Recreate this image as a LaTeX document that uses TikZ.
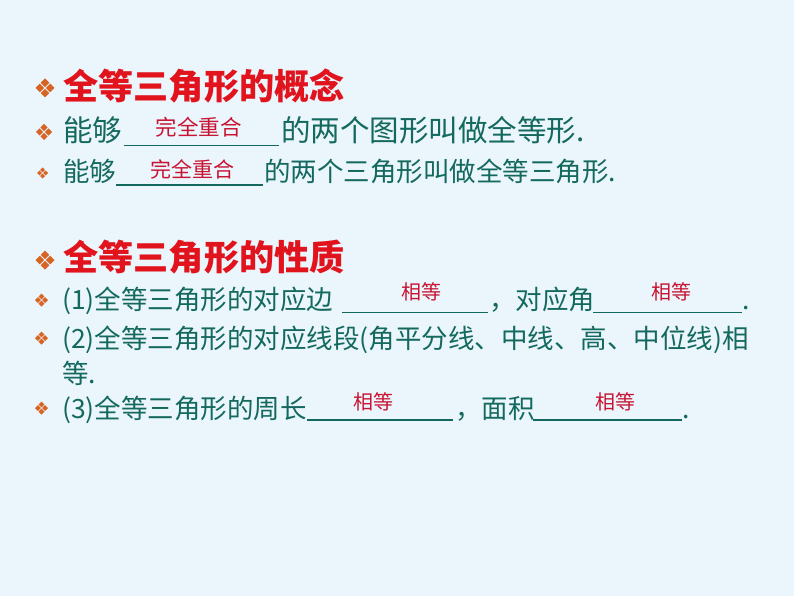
\documentclass[tikz,border=0pt]{standalone}
\usepackage{fontspec}
\setmainfont{Noto Sans CJK SC}
\usepackage{xcolor}
\usepackage{tikz}
\usetikzlibrary{positioning}
\definecolor{headred}{RGB}{225,20,30}
\definecolor{bodyteal}{RGB}{20,105,95}
\definecolor{ansred}{RGB}{200,20,50}
\definecolor{bulletc}{RGB}{215,100,35}
\definecolor{bgblue}{RGB}{234,245,252}
\tikzset{heading/.style={anchor=base west, inner sep=0pt, text=headred, font=\fontsize{35.2}{36}\selectfont\bfseries}}
\tikzset{body/.style={anchor=base west, inner sep=0pt, text=bodyteal, font=\fontsize{26.5}{30}\selectfont}}
\tikzset{answer/.style={anchor=base, inner sep=0pt, text=ansred, font=\fontsize{20}{22}\selectfont}}
\tikzset{blankline/.style={draw=bodyteal, line width=1.5pt}}
\newcommand{\diabullet}[3]{%
  \foreach \a in {0,90,180,270}
    \fill[bulletc,shift={(#1,#2)},rotate=\a] (0.1*#3,0) -- (0.55*#3,0.45*#3) -- (#3,0) -- (0.55*#3,-0.45*#3) -- cycle;
}

\begin{document}
\begin{tikzpicture}[x=1pt,y=-1pt]
\fill[bgblue] (0,0) rectangle (794,596);
\useasboundingbox (0,0) rectangle (794,596);

\diabullet{45}{88}{9.5}
\node[heading] (h1) at (63,100) {全等三角形的概念};

\diabullet{44}{132}{8}
\node[body, font=\fontsize{29.5}{30}\selectfont] (c1a) at (63,141.7) {能够};
\coordinate (u1a) at (124,145.5);
\coordinate (u1b) at (279,145.5);
\draw[blankline] (u1a) -- (u1b);
\node[answer, font=\fontsize{21.5}{24}\selectfont] (a1) at (198.5,136) {完全重合};
\node[body, font=\fontsize{29.5}{30}\selectfont] (c1b) at (281,141.7) {的两个图形叫做全等形.};

\diabullet{42.5}{173}{5.5}
\node[body] (c2a) at (63,181) {能够};
\coordinate (u2a) at (116,185);
\coordinate (u2b) at (263,185);
\draw[blankline] (u2a) -- (u2b);
\node[answer, font=\fontsize{21}{24}\selectfont] (a2) at (192.5,178) {完全重合};
\node[body] (c2b) at (264,181) {的两个三角形叫做全等三角形.};

\diabullet{45}{260}{9.5}
\node[heading] (h2) at (63,270) {全等三角形的性质};

\diabullet{41.5}{300}{6.5}
\node[body] (p1a) at (62,309) {(1)全等三角形的对应边};
\coordinate (u3a) at (342,312.5);
\coordinate (u3b) at (488,312.5);
\draw[blankline] (u3a) -- (u3b);
\node[answer] (a3) at (421,299.6) {相等};
\node[body] (p1b) at (489,309) {，对应角};
\coordinate (u4a) at (593,312.5);
\coordinate (u4b) at (742,312.5);
\draw[blankline] (u4a) -- (u4b);
\node[answer] (a4) at (671,299.6) {相等};
\node[body] (p1c) at (742,309) {.};

\diabullet{41.5}{338}{6.5}
\node[body] (p2a) at (62,348) {(2)全等三角形的对应线段(角平分线、中线、高、中位线)相};
\node[body] (p2b) at (62,383) {等.};

\diabullet{41.5}{408}{6.5}
\node[body] (p3a) at (62,418) {(3)全等三角形的周长};
\coordinate (u5a) at (307,420);
\coordinate (u5b) at (453,420);
\draw[blankline] (u5a) -- (u5b);
\node[answer] (a5) at (373.5,409.6) {相等};
\node[body] (p3b) at (455,418) {，面积};
\coordinate (u6a) at (533,420);
\coordinate (u6b) at (682,420);
\draw[blankline] (u6a) -- (u6b);
\node[answer] (a6) at (615,409.6) {相等};
\node[body] (p3c) at (682,418) {.};
\end{tikzpicture}
\end{document}
